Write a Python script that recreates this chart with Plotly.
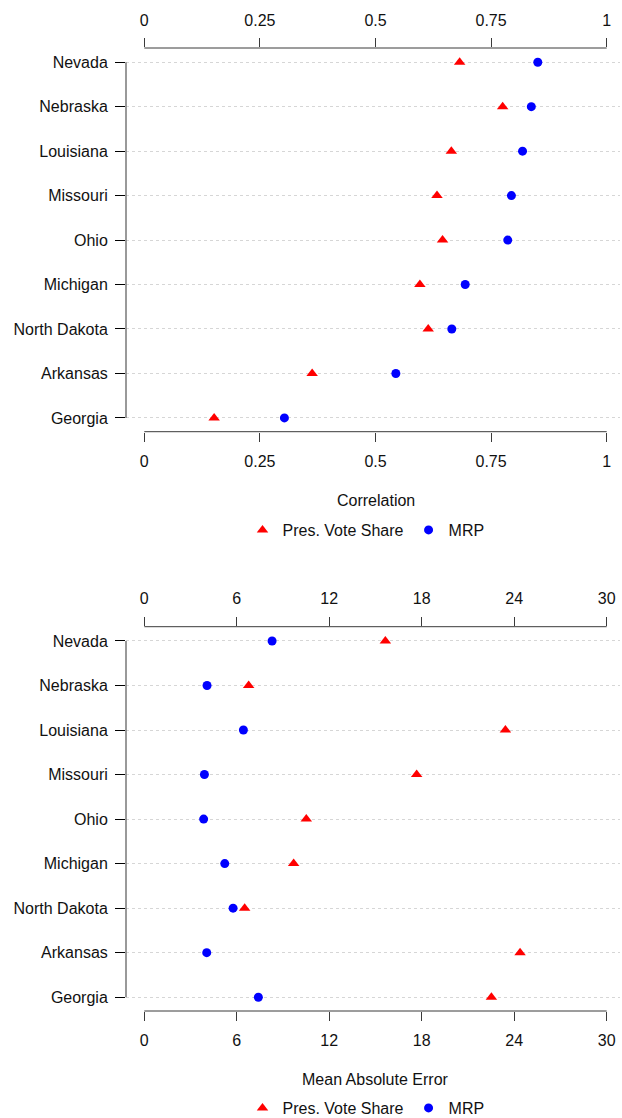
import plotly.graph_objects as go

# ---- data ----
states = ["Nevada", "Nebraska", "Louisiana", "Missouri", "Ohio",
          "Michigan", "North Dakota", "Arkansas", "Georgia"]

corr_pres = [0.682, 0.775, 0.664, 0.633, 0.645, 0.596, 0.614, 0.363, 0.151]
corr_mrp = [0.851, 0.837, 0.818, 0.794, 0.786, 0.694, 0.665, 0.544, 0.303]

mae_pres = [15.64, 6.77, 23.43, 17.67, 10.51, 9.69, 6.51, 24.38, 22.52]
mae_mrp = [8.29, 4.07, 6.43, 3.90, 3.85, 5.22, 5.76, 4.05, 7.40]

corr_ticks = [0, 0.25, 0.5, 0.75, 1]
corr_ticktext = ["0", "0.25", "0.5", "0.75", "1"]
mae_ticks = [0, 6, 12, 18, 24, 30]
mae_ticktext = ["0", "6", "12", "18", "24", "30"]

PRES_NAME = "Pres. Vote Share"
MRP_NAME = "MRP"
RED = "#FF0000"
BLUE = "#0000FF"
FONT = "Liberation Sans"
AXC = "#3a3a3a"
TXT = "#111111"

H = 1118
T, B = 48, 107
PLOT_H = H - T - B

def py(ypix):
    """pixel row -> paper fraction"""
    return (H - B - ypix) / PLOT_H

fig = go.Figure()

# top panel
fig.add_trace(go.Scatter(x=corr_pres, y=states, mode="markers", name=PRES_NAME,
                         marker=dict(symbol="triangle-up", size=10, color=RED),
                         xaxis="x", yaxis="y", legend="legend"))
fig.add_trace(go.Scatter(x=corr_mrp, y=states, mode="markers", name=MRP_NAME,
                         marker=dict(symbol="circle", size=9, color=BLUE),
                         xaxis="x", yaxis="y", legend="legend"))
# bottom panel
fig.add_trace(go.Scatter(x=mae_pres, y=states, mode="markers", name=PRES_NAME,
                         marker=dict(symbol="triangle-up", size=10, color=RED),
                         xaxis="x2", yaxis="y2", legend="legend2"))
fig.add_trace(go.Scatter(x=mae_mrp, y=states, mode="markers", name=MRP_NAME,
                         marker=dict(symbol="circle", size=9, color=BLUE),
                         xaxis="x2", yaxis="y2", legend="legend2"))

# empty traces so the top axes render
fig.add_trace(go.Scatter(x=[], y=[], xaxis="x3", yaxis="y", showlegend=False))
fig.add_trace(go.Scatter(x=[], y=[], xaxis="x4", yaxis="y2", showlegend=False))

cat_order = list(reversed(states))
n = len(states)

def xax(ticks, text, rng, **kw):
    d = dict(range=rng, tickmode="array", tickvals=ticks, ticktext=text,
             showgrid=False, zeroline=False, showline=False,
             ticks="outside", ticklen=9, tickcolor=AXC, tickwidth=1,
             tickfont=dict(family=FONT, size=16, color=TXT),
             ticklabelstandoff=6, fixedrange=True, automargin=False)
    d.update(kw)
    return d

def yax(domain, anchor):
    return dict(domain=domain, anchor=anchor, type="category",
                categoryorder="array", categoryarray=cat_order,
                range=[-0.31, n - 1 + 0.32],
                showgrid=True, gridcolor="#d6d6d6", griddash="dot", gridwidth=1,
                zeroline=False, showline=False,
                ticks="outside", ticklen=10, tickcolor="#000", tickwidth=1,
                tickfont=dict(family=FONT, size=16, color=TXT),
                ticklabelstandoff=4, fixedrange=True, automargin=False)

corr_span = corr_ticks[-1] - corr_ticks[0]
mae_span = mae_ticks[-1] - mae_ticks[0]
corr_range = [corr_ticks[0] - 0.0396 * corr_span, corr_ticks[-1] + 0.0288 * corr_span]
mae_range = [mae_ticks[0] - 0.0396 * mae_span, mae_ticks[-1] + 0.0288 * mae_span]

legend_common = dict(orientation="h", xref="paper", yref="paper",
                     xanchor="center", yanchor="middle",
                     font=dict(family=FONT, size=16, color=TXT),
                     bgcolor="rgba(0,0,0,0)", borderwidth=0)

fig.update_layout(
    width=622, height=H,
    margin=dict(l=126, r=2, t=T, b=B, autoexpand=False),
    paper_bgcolor="white", plot_bgcolor="white",
    font=dict(family=FONT, size=16, color=TXT),
    xaxis=xax(corr_ticks, corr_ticktext, corr_range, anchor="y"),
    xaxis3=xax(corr_ticks, corr_ticktext, corr_range, anchor="y",
               overlaying="x", side="top", matches="x"),
    xaxis2=xax(mae_ticks, mae_ticktext, mae_range, anchor="y2"),
    xaxis4=xax(mae_ticks, mae_ticktext, mae_range, anchor="y2",
               overlaying="x2", side="top", matches="x2"),
    yaxis=yax([py(431.7), 1.0], "x"),
    yaxis2=yax([0.0, py(626.7)], "x2"),
    legend=dict(legend_common, x=(366 - 126) / 494, y=py(530)),
    legend2=dict(legend_common, x=(366 - 126) / 494, y=py(1108)),
    showlegend=True,
)

# axis lines spanning the tick range only
shapes = []
for xr, yr, ticks in (("x", "y", corr_ticks), ("x2", "y2", mae_ticks)):
    for yy in (0, 1):
        shapes.append(dict(type="line", xref=xr, yref=f"{yr} domain",
                           x0=ticks[0], x1=ticks[-1], y0=yy, y1=yy,
                           line=dict(color=AXC, width=1)))
    shapes.append(dict(type="line", xref=f"{xr} domain", yref=yr,
                       x0=0, x1=0, y0=0, y1=n - 1,
                       line=dict(color="#777777", width=1.5)))
fig.update_layout(shapes=shapes)

# axis titles
fig.add_annotation(text="Correlation", xref="x", yref="paper",
                   x=(corr_ticks[0] + corr_ticks[-1]) / 2, y=py(500),
                   showarrow=False, font=dict(family=FONT, size=16, color=TXT),
                   yanchor="middle")
fig.add_annotation(text="Mean Absolute Error", xref="x2", yref="paper",
                   x=(mae_ticks[0] + mae_ticks[-1]) / 2, y=py(1079),
                   showarrow=False, font=dict(family=FONT, size=16, color=TXT),
                   yanchor="middle")

fig.write_html("out.html")
